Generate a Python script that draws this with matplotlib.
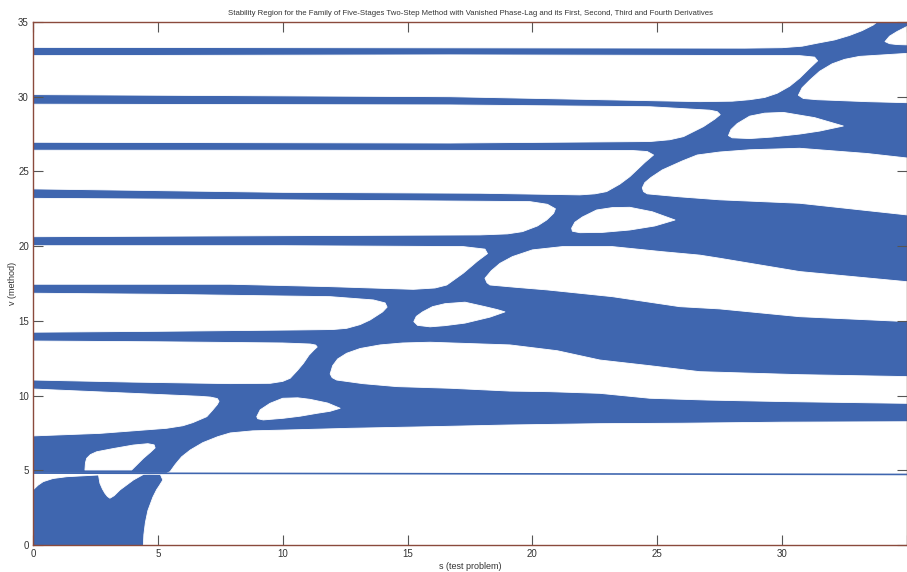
import numpy as np
import matplotlib.pyplot as plt

plt.rcParams['font.family'] = ['Liberation Sans Narrow', 'Liberation Sans', 'DejaVu Sans']

BLUE = '#3f66af'
AXCOL = '#8a4a3c'

# stable (blue) region is the background; the unstable (white) regions are read off the picture
# each region: list of (s, v) points going round its outline

# big region in the lower right, below the first diagonal band
white_bottom = [(0, 3.68), (0.2, 4.0), (0.41, 4.24), (0.8, 4.45), (1.35, 4.57), (2.68, 4.69), (4.68, 4.73),
                (5.1, 4.72), (5.2, 4.35), (5.05, 3.95), (4.95, 3.7), (4.8, 3.2), (4.6, 2.3), (4.5, 1.5),
                (4.44, 0.7), (4.42, 0),
                (35, 0), (35, 8.25), (30, 8.22), (26, 8.15), (22.7, 8.12), (19, 8.03), (16, 7.92),
                (12.7, 7.81), (10.7, 7.72), (8.8, 7.64), (7.9, 7.5), (7.4, 7.25), (6.8, 6.85), (6.3, 6.36),
                (5.95, 5.9), (5.7, 5.4), (5.49, 4.91), (5.35, 4.8), (0, 4.8)]
# hole inside the lower-left blob
white_hole = [(2.62, 4.72), (2.68, 4.13), (2.78, 3.75), (2.88, 3.46), (2.98, 3.25), (3.08, 3.13),
              (3.25, 3.3), (3.48, 3.68), (4.02, 4.35), (4.42, 4.72)]

# lanes that start at the left edge
lane_1 = [(0, 7.3), (2.68, 7.47), (5.35, 7.81), (6.0, 7.98), (6.4, 8.19), (6.96, 8.59), (7.2, 9.04),
          (7.38, 9.4), (7.45, 9.62), (7.38, 9.8), (7.1, 9.9), (6.69, 9.95), (4.0, 10.15), (0, 10.44)]
lane_2 = [(0, 11.04), (4, 10.9), (7.9, 10.8), (9.5, 10.82), (10.0, 10.95), (10.3, 11.16), (10.6, 11.7),
          (10.83, 12.16), (11.05, 12.7), (11.25, 13.05), (11.38, 13.25), (11.32, 13.38), (11.1, 13.45),
          (10, 13.52), (5, 13.6), (0, 13.65)]
lane_3 = [(0, 14.24), (5, 14.3), (10.56, 14.39), (12.0, 14.42), (12.56, 14.5), (13.1, 14.75), (13.5, 15.06),
          (14.0, 15.6), (14.18, 15.92), (14.1, 16.2), (13.63, 16.4), (11.9, 16.62), (5, 16.78), (0, 16.85)]
lane_4 = [(0, 17.45), (7.9, 17.45), (11.9, 17.29), (15.23, 17.11), (16.1, 17.2), (16.57, 17.4),
          (17.23, 18.19), (17.8, 19.0), (18.2, 19.5), (18.1, 19.8), (17.23, 19.97), (10, 20.03), (0, 20.03)]
lane_5 = [(0, 20.63), (10, 20.7), (17.9, 20.75), (19.0, 20.82), (19.6, 20.97), (20.2, 21.35), (20.57, 21.75),
          (20.85, 22.2), (20.92, 22.5), (20.6, 22.8), (19.9, 22.98), (10, 23.1), (0, 23.2)]
lane_6 = [(0, 23.83), (10, 23.6), (17.9, 23.54), (21.9, 23.43), (22.5, 23.5), (22.97, 23.65), (23.5, 24.15),
          (23.9, 24.65), (24.5, 25.6), (24.85, 26.1), (24.6, 26.33), (24.0, 26.4), (10, 26.42), (0, 26.42)]
lane_7 = [(0, 26.95), (16.7, 26.9), (24.7, 27.0), (25.5, 27.12), (26.05, 27.33), (26.85, 28.0), (27.3, 28.5),
          (27.52, 28.8), (27.4, 29.0), (27.1, 29.1), (24.7, 29.33), (16.7, 29.45), (0, 29.5)]
lane_8 = [(0, 30.14), (16.7, 30.0), (26.7, 29.67), (28.0, 29.7), (28.7, 29.8), (29.3, 29.95), (29.8, 30.23),
          (30.3, 30.7), (30.7, 31.24), (31.1, 31.9), (31.42, 32.4), (31.3, 32.65), (30.7, 32.75),
          (16.7, 32.8), (0, 32.75)]
lane_top = [(0, 33.3), (28.5, 33.25), (30.0, 33.28), (30.8, 33.38), (31.4, 33.58), (32.1, 33.8), (32.7, 34.1),
            (33.2, 34.42), (33.65, 34.8), (33.8, 35), (0, 35)]

# lanes that reach the right edge
lane_r2 = [(11.9, 11.45), (11.98, 11.2), (12.16, 11.04), (13.2, 10.8), (14.57, 10.6), (16.7, 10.49),
           (19.1, 10.3), (20.7, 10.26), (22.7, 10.15), (24.7, 9.82), (27, 9.7), (30, 9.6), (35, 9.48),
           (35, 11.27), (30.7, 11.4), (26.7, 11.6), (24.7, 12.0), (22.7, 12.38), (21, 13.0), (19.1, 13.39),
           (15.9, 13.57), (14.8, 13.52), (13.9, 13.39), (13.1, 13.15), (12.56, 12.83), (12.2, 12.45),
           (12.0, 12.0)]
lane_r7 = [(18.1, 17.85), (18.18, 17.55), (18.3, 17.4), (19.3, 17.25), (20.6, 17.07), (23.2, 16.62),
           (25.9, 15.95), (27.5, 15.8), (30.7, 15.28), (35, 14.95), (35, 17.62), (30.7, 18.3), (27.5, 19.19),
           (26.7, 19.4), (25.2, 19.63), (23.2, 19.97), (21.2, 19.97), (20.0, 19.75), (19.2, 19.3),
           (18.7, 18.85), (18.35, 18.35)]
lane_r8 = [(24.4, 23.9), (24.45, 23.65), (24.6, 23.5), (25.9, 23.3), (27.5, 23.1), (30.7, 22.87), (35, 22.09),
           (35, 25.9), (33.4, 26.2), (30.7, 26.55), (28.7, 26.45), (27.5, 26.3), (26.6, 26.1),
           (26.0, 25.7), (25.2, 25.1), (24.75, 24.6), (24.5, 24.25)]
lane_r9 = [(30.65, 30.1), (30.85, 29.88), (31.4, 29.8), (33.4, 29.67), (35, 29.6), (35, 32.9), (33.1, 32.7),
           (32.5, 32.5), (32.0, 32.2), (31.5, 31.7), (31.1, 31.1), (30.8, 30.6)]
corner = [(34.12, 33.69), (34.3, 33.55), (34.6, 33.49), (35, 33.47), (35, 34.7), (34.6, 34.36), (34.3, 34.05)]

# islands along the diagonal
island_1 = [(2.08, 5.02), (2.1, 5.5), (2.15, 5.8), (2.3, 6.05), (2.55, 6.24), (3.2, 6.45), (4.02, 6.69),
            (4.6, 6.78), (4.85, 6.7), (4.89, 6.5), (4.7, 6.2), (4.42, 5.8), (4.15, 5.35), (3.95, 5.02)]
island_2 = [(8.96, 8.59), (9.1, 9.05), (9.49, 9.48), (10.0, 9.82), (10.6, 9.85), (11.09, 9.75), (11.8, 9.5),
            (12.3, 9.15), (11.9, 8.95), (11.36, 8.81), (10.7, 8.62), (10.02, 8.48), (9.22, 8.37), (9.0, 8.45)]
island_3 = [(15.25, 14.95), (15.35, 15.3), (15.6, 15.6), (16.0, 15.95), (16.5, 16.15), (17.3, 16.25),
            (18.1, 15.95), (18.6, 15.75), (18.9, 15.6), (18.3, 15.25), (17.3, 14.85), (16.5, 14.68),
            (15.9, 14.6), (15.4, 14.7)]
island_4 = [(21.57, 21.2), (21.7, 21.6), (22.0, 21.95), (22.57, 22.42), (23.2, 22.58), (23.9, 22.6),
            (24.8, 22.3), (25.71, 21.75), (24.9, 21.35), (23.9, 21.08), (22.8, 20.92), (21.9, 20.9),
            (21.6, 21.0)]
island_5 = [(27.85, 27.4), (27.95, 27.8), (28.2, 28.2), (28.7, 28.7), (29.3, 28.9), (30.05, 28.95),
            (31.3, 28.6), (32.45, 28.04), (31.5, 27.7), (30.7, 27.5), (29.6, 27.3), (28.7, 27.2),
            (28.0, 27.25)]

white_regions = [white_bottom, white_hole, lane_1, lane_2, lane_3, lane_4, lane_5, lane_6, lane_7,
                 lane_8, lane_top, lane_r2, lane_r7, lane_r8, lane_r9, corner,
                 island_1, island_2, island_3, island_4, island_5]

# thin stable strip near v = 4.8
strip_s = [0, 35]
strip_lo = [4.79, 4.70]
strip_hi = [4.90, 4.81]

s_ticks = np.arange(0, 36, 5)
s_tick_labels = ['0', '5', '10', '15', '20', '25', '30', '']
v_ticks = np.arange(0, 36, 5)

fig = plt.figure(figsize=(9.07, 5.72), dpi=100)
ax = fig.add_axes([33 / 907, 27 / 572, 874 / 907, 523 / 572])
ax.set_facecolor(BLUE)

for reg in white_regions:
    pts = np.array(reg)
    ax.fill(pts[:, 0], pts[:, 1], facecolor='white', edgecolor='white', lw=0.6,
            joinstyle='round', zorder=1)

ax.fill_between(strip_s, strip_lo, strip_hi, color=BLUE, lw=0, zorder=2)

ax.set_xlim(0, 35)
ax.set_ylim(0, 35)
ax.set_xticks(s_ticks)
ax.set_xticklabels(s_tick_labels)
ax.set_yticks(v_ticks)
ax.tick_params(direction='in', top=True, right=True, length=7, width=0.8,
               labelsize=7, color='#555555', labelcolor='#333333', pad=3)
for sp in ax.spines.values():
    sp.set_color(AXCOL)
    sp.set_linewidth(1.0)

ax.set_title('Stability Region for the Family of Five-Stages Two-Step Method with Vanished Phase-Lag '
             'and its First, Second, Third and Fourth Derivatives', fontsize=5.6, color='#333333', pad=5)
ax.set_xlabel('s (test problem)', fontsize=6.5, color='#333333', labelpad=2)
ax.set_ylabel('v (method)', fontsize=6.5, color='#333333', labelpad=1)

fig.savefig('out.png', dpi=100)
